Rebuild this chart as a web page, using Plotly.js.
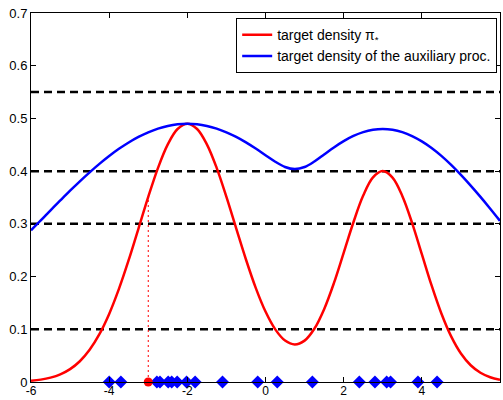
<!DOCTYPE html>
<html>
<head>
<meta charset="utf-8">
<script src="https://cdn.plot.ly/plotly-3.0.1.min.js"></script>
<style>html,body{margin:0;padding:0;background:#fff;}#chart{width:503px;height:400px;}</style>
</head>
<body>
<div id="chart"></div>
<script>
// x positions where the curves were read (step 0.25)
const curveX = [-6, -5.75, -5.5, -5.25, -5, -4.75, -4.5, -4.25, -4, -3.75, -3.5, -3.25, -3, -2.75, -2.5, -2.25, -2,
  -1.75, -1.5, -1.25, -1, -0.75, -0.5, -0.25, 0, 0.25, 0.5, 0.75, 1, 1.25, 1.5, 1.75, 2,
  2.25, 2.5, 2.75, 3, 3.25, 3.5, 3.75, 4, 4.25, 4.5, 4.75, 5, 5.25, 5.5, 5.75, 6];
// Target density pi_* (red)
const redY = [0.0024, 0.0045, 0.0083, 0.0145, 0.0244, 0.0394, 0.0610, 0.0907, 0.1292, 0.1766, 0.2315, 0.2911, 0.3511, 0.4062, 0.4508, 0.4799, 0.4900,
  0.4799, 0.4508, 0.4062, 0.3512, 0.2915, 0.2324, 0.1786, 0.1336, 0.0998, 0.0786, 0.0712, 0.0785, 0.1010, 0.1382, 0.1876, 0.2450,
  0.3031, 0.3536, 0.3880, 0.4001, 0.3877, 0.3530, 0.3019, 0.2426, 0.1831, 0.1299, 0.0865, 0.0541, 0.0318, 0.0176, 0.0091, 0.0044];
// Target density of the auxiliary process (blue)
const blueY = [0.2878, 0.3064, 0.3258, 0.3444, 0.3629, 0.3807, 0.3977, 0.4138, 0.4287, 0.4423, 0.4544, 0.4649, 0.4737, 0.4807, 0.4857, 0.4888, 0.4898,
  0.4888, 0.4857, 0.4807, 0.4737, 0.4650, 0.4546, 0.4428, 0.4301, 0.4178, 0.4079, 0.4039, 0.4078, 0.4182, 0.4316, 0.4450, 0.4570,
  0.4668, 0.4741, 0.4785, 0.4800, 0.4785, 0.4740, 0.4666, 0.4565, 0.4439, 0.4289, 0.4118, 0.3929, 0.3726, 0.3512, 0.3288, 0.3057];
// Levels (dashed horizontal lines)
const levels = [0.1, 0.3, 0.4, 0.55];
// Sample points on the axis
const sampleX = [-4.0, -3.7, -2.78, -2.70, -2.49, -2.40, -2.26, -2.02, -1.80, -1.10, -0.20, 0.30, 1.20, 2.40, 2.80, 3.10, 3.20, 3.90, 4.39];
const markedX = -3.0;
const markedY = 0.3511;
const xRange = [-6, 6];
const yRange = [0, 0.7];
const xTicks = [-6, -4, -2, 0, 2, 4, 6];
const yTicks = [0, 0.1, 0.2, 0.3, 0.4, 0.5, 0.6, 0.7];
const legendNames = ['target density π<sub>*</sub>', 'target density of the auxiliary proc.'];

const FONT = 'Liberation Sans, Arial, Helvetica, sans-serif';
const traces = [];
levels.forEach(l => {
  traces.push({x: xRange, y: [l, l], mode: 'lines', showlegend: false, hoverinfo: 'skip',
    line: {color: '#000', width: 2.5, dash: '8px,5px'}});
});
traces.push({x: [markedX, markedX], y: [0, markedY], mode: 'lines', showlegend: false,
  line: {color: '#ff0000', width: 1, dash: '2px,3px'}});
traces.push({x: curveX, y: redY, mode: 'lines', name: legendNames[0],
  line: {color: '#ff0000', width: 2.5, shape: 'spline', smoothing: 1}});
traces.push({x: curveX, y: blueY, mode: 'lines', name: legendNames[1],
  line: {color: '#0000ff', width: 2.5, shape: 'spline', smoothing: 1}});
traces.push({x: sampleX, y: sampleX.map(() => 0), mode: 'markers', showlegend: false, cliponaxis: false,
  marker: {symbol: 'diamond', size: 10, color: '#0000ff'}});
traces.push({x: [markedX], y: [0], mode: 'markers', showlegend: false, cliponaxis: false,
  marker: {symbol: 'circle', size: 9, color: '#ff0000'}});

const axisCommon = {showgrid: false, zeroline: false, showline: true, linecolor: '#000', linewidth: 1,
  mirror: 'ticks', ticks: 'inside', ticklen: 5, tickcolor: '#000', tickwidth: 1,
  tickfont: {family: FONT, size: 13, color: '#000'}};

const layout = {
  width: 503, height: 400,
  margin: {l: 31, r: 3, t: 13, b: 18},
  paper_bgcolor: '#fff', plot_bgcolor: '#fff',
  xaxis: Object.assign({}, axisCommon, {range: xRange, tickvals: xTicks, ticktext: xTicks.map(String),
    tickfont: {family: FONT, size: 12, color: '#000'}, ticklabelstandoff: -2}),
  yaxis: Object.assign({}, axisCommon, {range: yRange, tickvals: yTicks, ticktext: yTicks.map(String)}),
  showlegend: true,
  legend: {x: 0.994, y: 0.986, xanchor: 'right', yanchor: 'top', bgcolor: '#fff',
    bordercolor: '#000', borderwidth: 1, tracegroupgap: 0,
    font: {family: FONT, size: 14, color: '#000'}}
};

Plotly.newPlot('chart', traces, layout, {staticPlot: true, displayModeBar: false});
</script>
</body>
</html>
